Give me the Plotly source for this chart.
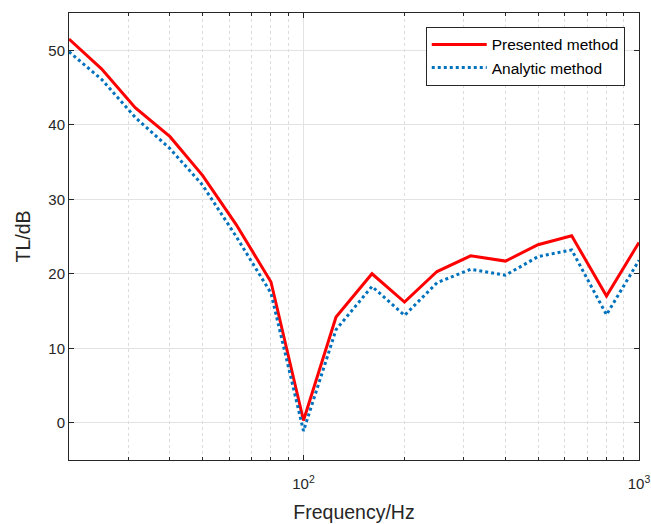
import numpy as np
import plotly.graph_objects as go

freq = [20, 25, 31.5, 40, 50, 63, 80, 100, 125, 160, 200, 250, 315, 400, 500, 630, 800, 1000]
presented = [51.5, 47.5, 42.3, 38.4, 33.2, 26.6, 18.9, 0.3, 14.2, 20.0, 16.2, 20.3, 22.4, 21.7, 23.9, 25.1, 17.0, 24.2]
analytic = [49.8, 46.1, 41.0, 36.8, 31.9, 25.0, 17.4, -1.1, 12.5, 18.3, 14.4, 18.8, 20.6, 19.8, 22.3, 23.2, 14.5, 21.8]

x_major = [100, 1000]
x_major_text = ["10<sup>2</sup>", "10<sup>3</sup>"]
x_minor = [30, 40, 50, 60, 70, 80, 90, 200, 300, 400, 500, 600, 700, 800, 900]
y_ticks = [0, 10, 20, 30, 40, 50]

fig = go.Figure()
fig.add_trace(go.Scatter(x=freq, y=presented, mode="lines", name="Presented method",
                         line=dict(color="#FF0000", width=3)))
fig.add_trace(go.Scatter(x=freq, y=analytic, mode="lines", name="Analytic method",
                         line=dict(color="#0072BD", width=3, dash="dot")))

font_family = "Liberation Sans, Arial, sans-serif"
fig.update_layout(
    width=651, height=524,
    margin=dict(l=69, r=12, t=13, b=64),
    paper_bgcolor="white", plot_bgcolor="white",
    font=dict(family=font_family, color="#262626"),
    showlegend=True,
    legend=dict(x=0.975, y=0.969, xanchor="right", yanchor="top",
                bgcolor="white", bordercolor="#262626", borderwidth=1,
                font=dict(size=15.5, color="black"), tracegroupgap=0,
                itemwidth=55),
    xaxis=dict(
        type="log", range=[np.log10(20), 3], automargin=False,
        tickmode="array", tickvals=x_major, ticktext=x_major_text,
        ticks="inside", ticklen=5, tickcolor="#262626",
        ticklabelstandoff=10,
        showgrid=True, gridcolor="#E3E3E3", gridwidth=1,
        showline=True, linecolor="#262626", linewidth=1, mirror="ticks",
        tickfont=dict(size=15, color="#262626"),
        title=dict(text="Frequency/Hz", font=dict(size=19.5, color="#262626"), standoff=14),
        zeroline=False,
        minor=dict(tickmode="array", tickvals=x_minor, ticks="inside", ticklen=3,
                   tickcolor="#262626", showgrid=True, gridcolor="#DCDCDC",
                   griddash="dot", gridwidth=1),
    ),
    yaxis=dict(
        range=[-5, 55], automargin=False,
        tickmode="array", tickvals=y_ticks,
        ticks="inside", ticklen=5, tickcolor="#262626",
        showgrid=True, gridcolor="#E3E3E3", gridwidth=1,
        showline=True, linecolor="#262626", linewidth=1, mirror="ticks",
        tickfont=dict(size=15, color="#262626"),
        title=dict(text="TL/dB", font=dict(size=19.5, color="#262626"), standoff=12),
        zeroline=False,
    ),
)

fig.write_html("out.html")
